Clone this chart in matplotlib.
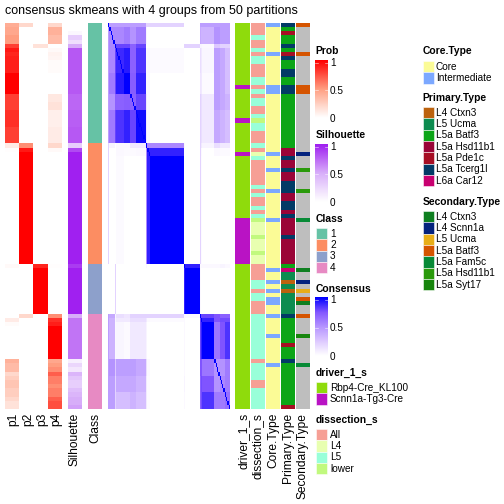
import numpy as np
import matplotlib
matplotlib.use('Agg')
import matplotlib.pyplot as plt
from matplotlib.colors import LinearSegmentedColormap, to_rgb
from matplotlib.patches import Rectangle

plt.rcParams['font.family'] = ['Liberation Sans', 'DejaVu Sans']

W, H = 504, 504

# Membership probabilities, one value per row (93 samples)
p1 = ([.42, .45, .45, .5, .5, .8, .92, .88] + [.9] * 4 + [1] * 5 + [.8] * 4 + [.85] * 4 + [.8] * 4
      + [.1, .01] + [0] * 27 + [.03] + [0] * 11 + [0, .1, .02] + [0] * 8
      + [.4, .35, .35, .2, .25, .3, .3, .25, .25, .2, .15, .15])
p2 = ([.2] + [0] * 28 + [.55, .92] + [1] * 27 + [0] * 12 + [.2] + [0] * 22)
p3 = ([0] * 5 + [.15] + [0] * 52 + [.88] + [1] * 11 + [0] * 23)
p4 = ([.2, .4, .4, .35, .35, 0, .03, .06, .05, .02, .02, .02] + [0] * 5 + [.12, .12, .15, .15] + [.08] * 4
      + [.1] * 4 + [.2, .03] + [0] * 27 + [.01] + [0] * 11 + [.55, .85, .9] + [1] * 8
      + [.45, .5, .55, .7, .6, .6, .55, .6, .6, .7, .75, .75])
silhouette = ([0, 0, .05, .3, .2, .5, .8, .8, .8, .8, .8, .8] + [.8] * 5 + [.75] * 4 + [.78] * 4 + [.8] * 4
              + [.3, .85] + [1] * 27 + [.9] + [1] * 11 + [.5] + [.7] * 10
              + [.1, .25, .15, .45, .35, .3, .3, .4, .45, .5, .5, .55])
class_sizes = [29, 29, 12, 23]

# Consensus matrix: blocks along the diagonal and the level of each block pair
group_edges = [0, 1, 5, 6, 12, 17, 21, 29, 30, 32, 58, 59, 70, 71, 72, 81, 85, 89, 93]
group_levels = [
    [.4, .45, .45, .45, .45, .45, .45, .2, .2, .2, 0, 0, .45, .45, .45, .45, .45, .45],
    [.55, .55, .55, .6, .5, .6, .05, 0, 0, 0, 0, .4, .35, .35, .5, .45, .45],
    [.6, .8, .8, .7, .8, 0, 0, 0, .2, .2, .05, .05, .03, .25, .2, .2],
    [.88, .92, .7, .85, .03, .03, .02, 0, 0, .15, .1, .04, .45, .4, .3],
    [1, .72, .9, .03, .02, 0, 0, 0, .12, .1, .02, .45, .4, .3],
    [.7, .8, .1, .02, 0, 0, 0, .2, .15, .1, .45, .4, .35],
    [.97, .1, .03, 0, 0, 0, .2, .15, .1, .4, .35, .3],
    [.55, .55, .55, .03, 0, .2, .1, .05, .15, .1, .1],
    [.9, .9, 0, 0, .2, .03, 0, .03, .02, .02],
    [1, 0, 0, .2, .02, 0, 0, 0, 0],
    [.9, .9, .03, .03, .03, .03, .05, .03],
    [1, .03, 0, 0, 0, 0, 0],
    [.8, .8, .8, .75, .7, .7],
    [.9, .9, .75, .78, .78],
    [1, .62, .75, .85],
    [.5, .5, .6],
    [.55, .6],
    [.65],
]

# Annotation tracks, stored as (label, run length)
driver_runs = [('R', 15), ('S', 1), ('R', 7), ('S', 1), ('R', 7), ('S', 1), ('R', 15), ('S', 11), ('R', 35)]
dissection_runs = [('All', 3), ('L5', 1), ('All', 2), ('L5', 1), ('All', 1), ('L5', 2), ('All', 3), ('L5', 2),
                   ('All', 1), ('L5', 1), ('All', 1), ('L5', 2), ('All', 2), ('L5', 1), ('lower', 1), ('L5', 2),
                   ('All', 3), ('L5', 1), ('All', 1), ('L4', 1), ('L5', 1), ('All', 6), ('L5', 1), ('All', 1),
                   ('L5', 1), ('All', 2), ('L5', 1), ('All', 1), ('L5', 1), ('lower', 1), ('L4', 3), ('lower', 1),
                   ('L4', 3), ('lower', 1), ('L4', 2), ('All', 4), ('L5', 2), ('All', 1), ('L5', 2), ('All', 3),
                   ('L5', 11), ('All', 1), ('L5', 4), ('All', 2), ('L5', 5)]
core_runs = [('I', 1), ('C', 6), ('I', 1), ('C', 7), ('I', 2), ('C', 14), ('I', 1), ('C', 3), ('I', 1), ('C', 4),
             ('I', 1), ('C', 6), ('I', 1), ('C', 11), ('I', 1), ('C', 2), ('I', 1), ('C', 1), ('I', 1), ('C', 1),
             ('I', 2), ('C', 2), ('I', 1), ('C', 4), ('I', 1), ('C', 6), ('I', 1), ('C', 10)]
primary_runs = [('Tc', 1), ('Ba', 1), ('Pd', 1), ('Ba', 2), ('Tc', 1), ('Ba', 1), ('Pd', 1), ('Tc', 1), ('Ba', 2),
                ('Tc', 2), ('Ba', 2), ('Tc', 2), ('Ba', 13), ('Hs', 2), ('Tc', 1), ('Hs', 2), ('Tc', 1), ('Hs', 2),
                ('Tc', 3), ('Hs', 2), ('Tc', 2), ('Hs', 1), ('Tc', 1), ('Hs', 4), ('Tc', 1), ('Hs', 6), ('Ba', 1),
                ('Ca', 1), ('Uc', 2), ('Ct', 1), ('Uc', 1), ('Ct', 1), ('Uc', 5), ('Tc', 1), ('Ba', 6), ('Pd', 1),
                ('Ba', 3), ('Tc', 1), ('Ba', 10), ('Pd', 1)]
secondary_runs = [('Ba', 1), ('NA', 6), ('Ba', 1), ('NA', 7), ('Ba', 2), ('NA', 14), ('Sc', 1), ('NA', 3), ('Hs', 1),
                  ('NA', 4), ('Hs', 1), ('NA', 6), ('Fa', 1), ('NA', 11), ('Ct', 1), ('NA', 2), ('Sc', 1), ('NA', 1),
                  ('Uc', 1), ('NA', 1), ('Ba', 1), ('Ct', 1), ('NA', 2), ('Ba', 1), ('NA', 4), ('Sy', 1), ('NA', 6),
                  ('Fa', 1), ('NA', 10)]

class_colors = ['#66C2A5', '#FC8D62', '#8DA0CB', '#E78AC3']
driver_colors = {'R': '#8FDB0C', 'S': '#B913C4'}
dissection_colors = {'All': '#F69F95', 'L4': '#E8FFB0', 'L5': '#99FFD9', 'lower': '#C1F97E'}
core_colors = {'C': '#FBFB96', 'I': '#7CA8FF'}
primary_colors = {'Ct': '#BC620E', 'Uc': '#0D8C50', 'Ba': '#0CA517', 'Hs': '#9A0437', 'Pd': '#A60E24',
                  'Tc': '#023A66', 'Ca': '#C80070'}
secondary_colors = {'Ct': '#0E7F20', 'Sc': '#04237E', 'Uc': '#E8AE18', 'Ba': '#D55400', 'Fa': '#078A36',
                    'Hs': '#2A9A0B', 'Sy': '#17850D', 'NA': '#BEBEBE'}

prob_cmap = LinearSegmentedColormap.from_list('prob', ['#FFFFFF', '#FF9E81', '#FF0000'])
sil_cmap = LinearSegmentedColormap.from_list('sil', ['#FFFFFF', '#D8AEFA', '#A020F0'])
cons_cmap = LinearSegmentedColormap.from_list('cons', ['#FFFFFF', '#DDC8FF', '#B594FF', '#8256FF', '#0000FF'])


def expand(runs, colors):
    rows = []
    for name, n in runs:
        rows += [to_rgb(colors[name])] * n
    return np.array(rows)[:, None, :]


def add_ax(x0, y0, x1, y1):
    ax = fig.add_axes([x0 / W, 1 - y1 / H, (x1 - x0) / W, (y1 - y0) / H])
    ax.axis('off')
    return ax


def show(x0, x1, img, **kw):
    ax = add_ax(x0, 23, x1, 409)
    ax.imshow(img, aspect='auto', interpolation='nearest', **kw)


fig = plt.figure(figsize=(7, 7), dpi=72)

# Probability columns
show(5, 62, np.array([p1, p2, p3, p4]).T, cmap=prob_cmap, vmin=0, vmax=1)
show(68, 82, np.array(silhouette)[:, None], cmap=sil_cmap, vmin=0, vmax=1)
class_rows = [class_colors[i] for i, n in enumerate(class_sizes) for _ in range(n)]
show(88, 102, np.array([to_rgb(c) for c in class_rows])[:, None, :])

# Consensus heatmap
n_groups = len(group_levels)
levels = np.zeros((n_groups, n_groups))
for i, row in enumerate(group_levels):
    levels[i, i:] = row
    levels[i:, i] = row
sizes = np.diff(group_edges)
consensus = np.repeat(np.repeat(levels, sizes, axis=0), sizes, axis=1)
np.fill_diagonal(consensus, 1)
show(108, 230, consensus, cmap=cons_cmap, vmin=0, vmax=1)

# Annotation tracks
show(235, 250, expand(driver_runs, driver_colors))
show(251, 265, expand(dissection_runs, dissection_colors))
show(266, 280, expand(core_runs, core_colors))
show(281, 295, expand(primary_runs, primary_colors))
show(296, 310, expand(secondary_runs, secondary_colors))

# Overlay in pixel coordinates for text and legends
ov = fig.add_axes([0, 0, 1, 1])
ov.set_xlim(0, W)
ov.set_ylim(H, 0)
ov.axis('off')
ov.patch.set_alpha(0)

ov.text(5, 11, 'consensus skmeans with 4 groups from 50 partitions', fontsize=12.55, va='center', ha='left')

bottom_labels = [('p1', 13.5), ('p2', 28), ('p3', 42), ('p4', 56.5), ('Silhouette', 75), ('Class', 95),
                 ('driver_1_s', 243.5), ('dissection_s', 258), ('Core.Type', 273), ('Primary.Type', 288),
                 ('Secondary.Type', 303)]
for label, x in bottom_labels:
    ov.text(x, 413, label, rotation=90, fontsize=12, ha='center', va='top')


def colorbar(x, title, title_y, top, bottom, cmap):
    ov.text(x + 0.5, title_y, title, fontsize=10.2, fontweight='bold', va='center', ha='left')
    grad = np.linspace(1, 0, 64)[:, None]
    ov.imshow(grad, cmap=cmap, vmin=0, vmax=1, aspect='auto', extent=(x, x + 13, bottom, top), zorder=2)
    span = bottom - top
    for val, frac in [('1', 0.05), ('0.5', 0.52), ('0', 1.0)]:
        y = top + span * frac
        ov.plot([x, x + 3], [y, y], color='white', lw=0.6, alpha=0.8, zorder=3)
        ov.plot([x + 10, x + 13], [y, y], color='white', lw=0.6, alpha=0.8, zorder=3)
        ov.text(x + 15, y + 0.5, val, fontsize=10, va='center', ha='left')


def legend(x, title, title_y, labels, colors, first_y, label_x):
    ov.text(x, title_y, title, fontsize=10.2, fontweight='bold', va='center', ha='left')
    for i, (lab, col) in enumerate(zip(labels, colors)):
        top = first_y + i * 11.33
        ov.add_patch(Rectangle((x, top), 11, 11.33, fc=col, ec='white', lw=0.5, zorder=2))
        ov.text(label_x, top + 5.7, lab, fontsize=10, va='center', ha='left')


colorbar(315, 'Prob', 51, 60, 118, prob_cmap)
colorbar(315, 'Silhouette', 135, 144, 202, sil_cmap)
legend(316, 'Class', 219, ['1', '2', '3', '4'], class_colors, 228, 330)
colorbar(315, 'Consensus', 289, 297, 356, cons_cmap)
legend(316, 'driver_1_s', 373, ['Rbp4-Cre_KL100', 'Scnn1a-Tg3-Cre'], list(driver_colors.values()), 382, 330)
legend(316, 'dissection_s', 420, ['All', 'L4', 'L5', 'lower'], list(dissection_colors.values()), 429, 330)

legend(422.5, 'Core.Type', 51, ['Core', 'Intermediate'], list(core_colors.values()), 61, 436)
legend(422.5, 'Primary.Type', 98, ['L4 Ctxn3', 'L5 Ucma', 'L5a Batf3', 'L5a Hsd11b1', 'L5a Pde1c', 'L5a Tcerg1l',
                                   'L6a Car12'], list(primary_colors.values()), 107, 436)
legend(422.5, 'Secondary.Type', 202, ['L4 Ctxn3', 'L4 Scnn1a', 'L5 Ucma', 'L5a Batf3', 'L5a Fam5c', 'L5a Hsd11b1',
                                      'L5a Syt17'], list(secondary_colors.values())[:7], 211, 436)

ov.set_xlim(0, W)
ov.set_ylim(H, 0)

fig.savefig('out.png', dpi=72)
